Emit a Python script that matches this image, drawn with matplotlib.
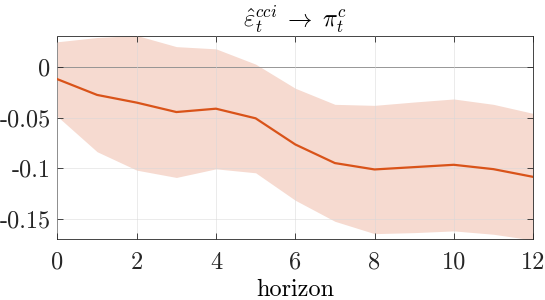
import matplotlib
matplotlib.use('Agg')
import matplotlib.pyplot as plt
import numpy as np

plt.rcParams['font.family'] = 'serif'
plt.rcParams['font.serif'] = ['cmr10']
plt.rcParams['mathtext.fontset'] = 'cm'
plt.rcParams['axes.unicode_minus'] = False

horizon = [0, 1, 2, 3, 4, 5, 6, 7, 8, 9, 10, 11, 12]
irf = [-0.0122, -0.0277, -0.0353, -0.0446, -0.0413, -0.0508, -0.0766,
       -0.0950, -0.1013, -0.0990, -0.0967, -0.1010, -0.1086]
upper = [0.0248, 0.0290, 0.0310, 0.0200, 0.0178, 0.0027, -0.0211,
         -0.0370, -0.0380, -0.0347, -0.0317, -0.0370, -0.0459]
lower = [-0.0490, -0.0838, -0.1020, -0.1092, -0.1007, -0.1046, -0.1317,
         -0.1525, -0.1647, -0.1637, -0.1620, -0.1653, -0.1710]

yticks = [-0.15, -0.1, -0.05, 0]
ytick_labels = ['-0.15', '-0.1', '-0.05', '0']
xticks = [0, 2, 4, 6, 8, 10, 12]

fig = plt.figure(figsize=(5.45, 3.0), dpi=100)
ax = fig.add_axes([0.1055, 0.2033, 0.8725, 0.6767])

ax.fill_between(horizon, lower, upper, color='#f6dad0', linewidth=0, zorder=1)
ax.axhline(0, color='#3a3a3a', linewidth=0.6, zorder=2)
ax.plot(horizon, irf, color='#d95319', linewidth=1.6, zorder=3)

ax.set_xlim(0, 12)
ax.set_ylim(-0.17, 0.0305)
ax.set_xticks(xticks)
ax.set_xticklabels([str(t) for t in xticks])
ax.set_yticks(yticks)
ax.set_yticklabels(ytick_labels)
ax.grid(True, color='#d8d8d8', linewidth=0.6, zorder=0)
ax.set_axisbelow(False)
for gl in ax.get_xgridlines() + ax.get_ygridlines():
    gl.set_alpha(0.6)
ax.tick_params(direction='in', length=4, width=0.6, colors='#262626',
               labelsize=17.5, top=True, right=True)
ax.tick_params(axis='x', pad=9)
ax.tick_params(axis='y', pad=5)
for s in ax.spines.values():
    s.set_color('#262626')
    s.set_linewidth(0.6)

ax.set_xlabel('horizon', fontsize=17.5, labelpad=4)
ax.set_title(r'$\hat{\varepsilon}^{cci}_t \;\rightarrow\; \pi^c_t$', fontsize=17.5, pad=7)

fig.savefig('out.png', dpi=100)
